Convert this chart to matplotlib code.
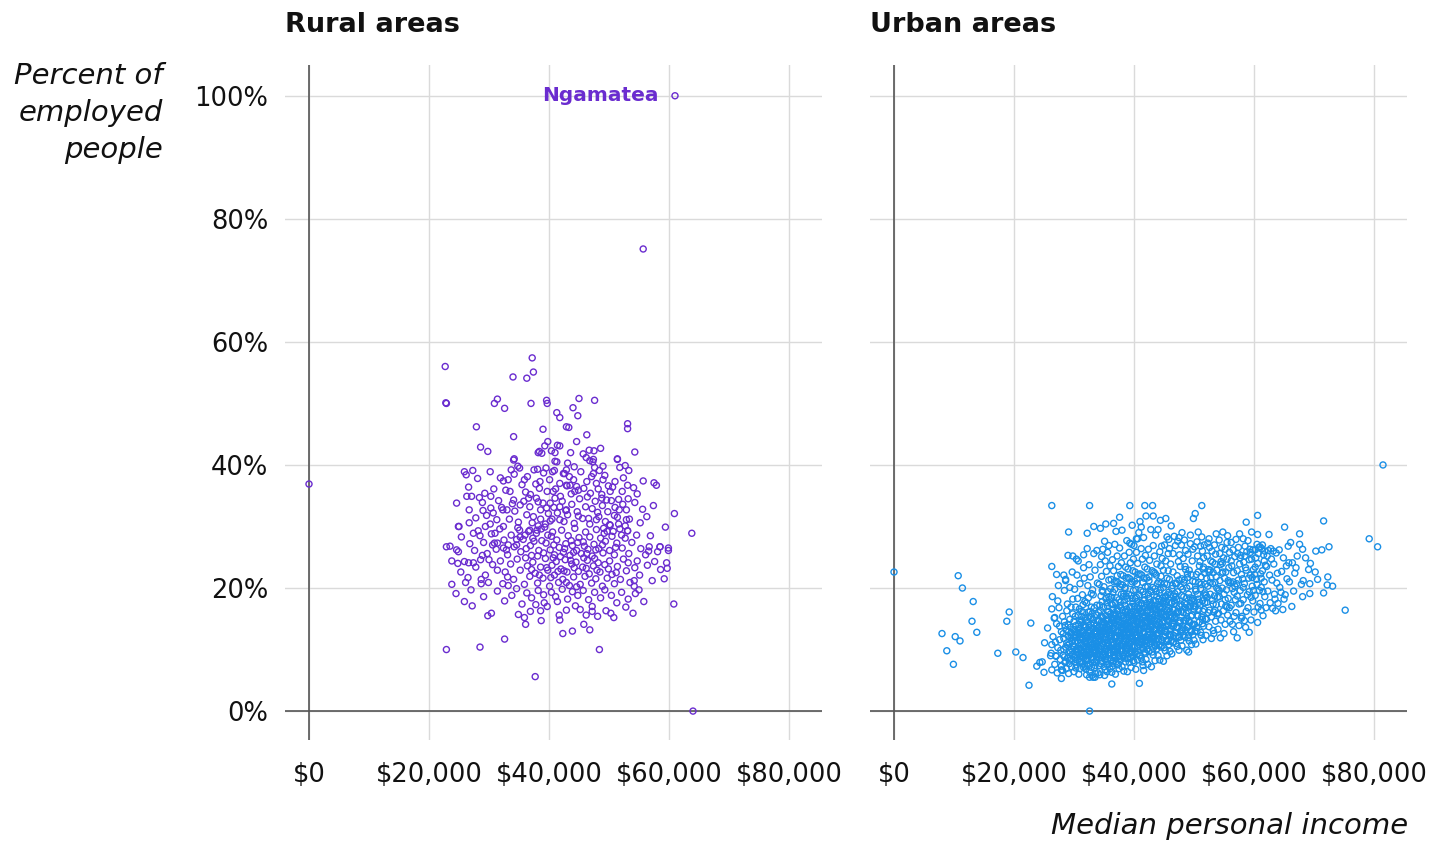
import matplotlib
matplotlib.use("Agg")
import matplotlib.pyplot as plt

# ---------------- data (income in $ thousands, percent of employed people) ----------------
rural_points = [
    (0.0,36.9),(61.0,100.0),(55.7,75.1),(64.0,0.0),(63.8,28.9),(60.8,17.4),(60.9,32.1),(59.4,29.9),(56.9,28.5),
    (56.6,26.0),(58.1,25.9),(58.5,26.7),(59.9,26.1),(57.6,24.3),(59.6,24.1),(59.7,23.2),(58.6,23.0),(59.2,21.5),
    (54.7,24.4),(54.2,21.2),(54.2,20.3),(55.0,19.7),(55.6,32.8),
    (22.7,56.0),(37.2,57.4),(34.0,54.3),(36.3,54.1),(37.4,55.1),(22.9,50.0),(22.8,50.1),(30.9,50.0),(31.4,50.7),
    (32.6,49.2),(37.0,50.0),(39.6,50.5),(39.7,50.0),(45.0,50.8),(47.6,50.5),(44.0,49.3),(41.3,48.5),(41.8,47.7),
    (44.8,48.0),(53.1,46.7),(53.1,45.9),(27.9,46.2),(34.1,44.6),(39.0,45.8),(43.3,46.1),(46.3,44.9),(28.6,42.9),
    (29.8,42.2),(34.2,41.0),(38.4,42.2),(38.8,41.9),(39.3,43.1),(39.8,43.8),(40.4,42.3),(41.4,43.2),(41.8,43.1),
    (43.6,42.0),(44.6,43.8),(54.3,42.1),(51.4,41.0),(41.0,40.6),
    (22.9,10.0),(28.5,10.4),(32.6,11.7),(37.7,5.6),(48.4,10.0),(42.3,12.6),(43.9,13.0),(46.8,13.2),(45.8,14.1),
    (36.1,14.1),(38.7,14.7),(41.7,15.6),(41.8,14.8),(29.8,15.5),(30.4,15.9),(34.9,15.7),(36.9,16.2),(37.8,17.3),
    (39.2,17.6),(39.7,17.0),(41.4,17.8),(44.4,17.1),(45.2,16.5),(47.2,17.0),(47.2,16.2),(49.5,16.3),(50.3,15.9),
    (50.8,15.2),(54.0,15.9),
    (23.8,20.6),(24.5,19.1),(25.9,17.8),(27.0,19.7),(26.1,20.9),(26.5,21.7),(28.7,20.7),(28.7,21.4),(29.9,20.9),
    (32.3,20.7),(31.4,22.9),(33.1,21.8),(22.9,26.7),(23.5,26.8),(24.6,26.2),(24.9,25.9),(23.8,24.4),(24.8,24.0),
    (25.9,24.3),(26.6,24.1),(27.4,24.1),(25.4,28.3),(24.9,30.0),(26.7,32.7),(24.6,33.8),(30.0,24.6),
    (25.9,38.9),(27.3,39.1),(26.6,36.4),(26.3,34.9),(27.1,34.9),(28.4,34.7),(29.0,32.6),(30.3,34.9),(30.3,33.0),
    (25.0,30.0),(26.7,30.6),(27.4,28.9),(28.5,28.5),(29.4,30.0),(30.2,30.4),(31.3,31.1),(31.0,28.9),(32.4,30.0),
    (32.3,32.7),(33.0,32.7),(34.1,34.3),(35.2,33.5),(33.5,35.7),(32.4,37.4),(33.2,37.6),(34.2,38.5),(33.7,39.2),
    (35.1,39.5),(34.8,39.8),(34.1,40.8),(31.4,27.3),(30.6,27.0),(32.4,26.5),(33.2,27.0),(34.6,27.0),(35.2,28.3),
    (36.0,28.6),(36.8,29.4),(38.0,29.4),(37.4,31.6),(38.2,34.0),(38.6,32.7),(39.0,33.8),(39.6,33.0),(40.2,33.8),
    (41.0,34.6),(40.7,35.7),(39.7,35.7),(38.4,36.2),(38.5,37.3),(37.5,39.2),(38.1,39.3),(39.5,39.5),(40.6,38.9),
    (41.3,40.5),(41.0,42.0),(38.2,42.0),(42.9,46.2),(42.4,38.6),(42.9,39.2),(41.8,37.0),(42.9,36.7),(41.8,33.2),
    (42.9,32.7),(41.8,31.1),
    (48.6,42.7),(47.5,42.3),(46.7,42.4),(45.7,41.8),(46.2,41.2),(46.8,40.7),(47.3,40.5),(47.4,40.9),(51.4,40.9),
    (52.7,39.9),(51.8,39.6),(53.3,39.1),(49.0,39.8),(48.4,39.1),(47.4,38.6),(43.1,40.3),(42.6,38.6),(44.1,37.6),
    (43.5,36.7),(43.0,36.6),(44.6,36.5),(44.9,35.9),(44.3,35.7),(46.3,37.3),(47.1,38.1),(47.9,37.0),(49.0,37.6),
    (49.9,36.6),(51.0,37.3),(50.2,35.7),(49.6,34.3),(48.8,34.6),(53.1,36.7),(52.2,35.7),(53.2,34.5),(51.6,34.4),
    (51.0,33.1),(51.7,32.7),(52.9,32.7),(54.7,35.3),(55.7,37.4),(57.5,37.1),(57.9,36.7),(51.4,31.5),(52.9,31.1),
    (52.7,30.1),(53.1,29.3),(52.1,28.6),(50.7,29.2),(50.2,30.2),(49.1,29.7),(47.9,31.1),(46.6,31.3),(56.7,26.7),
    (58.5,26.7),(59.9,26.5),
    (29.3,35.4),(30.8,36.1),(31.9,37.9),(32.8,35.9),(35.5,36.8),(36.4,38.1),(36.9,35.2),(37.8,36.9),(40.1,37.6),
    (41.1,36.1),(43.4,38.1),(45.3,38.9),(45.8,36.2),(46.9,35.4),(48.2,36.1),(49.3,38.3),(50.6,36.4),(52.4,37.9),
    (54.1,36.3),(28.1,37.8),(26.2,38.4),(36.1,35.6),(39.1,38.7),(44.2,39.7),(47.6,39.6),(30.2,38.9),(35.9,37.6),
    (40.9,39.1),(43.7,35.3),(48.8,35.2),
    (27.8,31.4),(28.9,33.9),(29.6,31.8),(30.7,32.2),(31.6,34.2),(32.1,33.1),(33.4,31.2),(34.3,32.5),(34.9,30.7),
    (35.8,34.1),(36.3,31.9),(36.8,33.2),(37.2,30.6),(37.9,34.6),(38.6,31.2),(39.4,30.4),(39.9,32.1),(40.5,31.2),
    (40.8,33.1),(41.4,32.2),(42.2,34.1),(42.5,30.8),(43.1,31.9),(43.8,33.6),(44.2,30.5),(44.7,32.4),(45.1,34.5),
    (45.6,31.3),(46.1,33.2),(46.8,30.4),(47.2,32.9),(47.7,34.1),(48.3,31.6),(48.9,33.4),(49.4,30.8),(49.8,32.4),
    (50.4,34.2),(50.9,31.8),(51.6,30.4),(52.3,33.6),(53.4,31.2),(54.3,33.9),(55.2,30.6),(56.3,31.6),(57.4,33.4),
    (46.4,34.8),(41.9,34.9),(38.2,30.1),(33.9,33.7),(44.9,31.7),(48.1,32.3),(42.8,32.6),(40.2,30.9),(36.6,34.6),
    (50.1,30.3),
    (26.8,27.2),(27.6,26.1),(28.2,29.3),(29.1,27.4),(29.7,25.6),(30.4,28.8),(31.2,26.3),(31.8,29.6),(32.5,27.8),
    (33.1,25.4),(33.7,28.6),(34.2,26.7),(34.8,29.8),(35.3,25.9),(35.7,27.9),(36.2,26.4),(36.6,29.2),(37.1,25.3),
    (37.5,27.6),(37.9,28.9),(38.3,26.1),(38.7,29.6),(39.1,25.7),(39.5,27.3),(39.8,28.6),(40.2,26.2),(40.6,29.1),
    (40.9,25.4),(41.3,27.8),(41.7,26.6),(42.1,29.4),(42.4,25.8),(42.8,27.2),(43.2,28.5),(43.5,25.3),(43.9,26.9),
    (44.3,29.7),(44.6,26.1),(45.0,28.2),(45.4,25.6),(45.7,27.5),(46.1,29.1),(46.5,26.3),(46.8,28.3),(47.2,25.2),
    (47.5,27.1),(47.9,29.5),(48.3,26.4),(48.6,28.1),(49.0,25.7),(49.4,27.6),(49.7,29.2),(50.1,26.1),(50.5,28.4),
    (50.9,25.4),(51.3,27.3),(51.8,29.6),(52.2,26.5),(52.7,28.1),(53.3,25.6),(53.8,27.4),(54.6,28.6),(55.3,26.4),
    (56.1,25.4),(28.9,25.3),(30.9,27.3),(32.9,26.2),(34.6,27.9),(36.9,26.9),(38.8,27.7),(40.4,28.4),(41.9,25.1),
    (43.7,27.7),(45.9,26.8),(47.8,26.2),(49.2,28.9),(51.1,26.6),(53.1,29.3),(38.1,25.2),(44.1,25.8),(46.3,25.6),
    (42.6,26.4),(40.8,27.0),(39.3,29.9),(35.1,29.4),(48.9,27.0),(37.3,28.1),(44.8,27.4),
    (25.3,22.6),(27.8,23.4),(28.6,24.6),(29.4,22.1),(30.6,23.8),(31.9,24.4),(32.7,22.6),(33.6,23.9),(34.1,21.4),
    (34.7,24.7),(35.2,22.9),(35.9,20.6),(36.4,23.6),(36.8,21.9),(37.3,24.2),(37.7,22.4),(38.1,20.8),(38.6,23.4),
    (39.0,21.6),(39.4,24.8),(39.8,22.9),(40.1,20.3),(40.5,23.7),(40.9,22.1),(41.2,24.3),(41.6,20.9),(42.0,23.1),
    (42.3,21.4),(42.7,24.6),(43.0,22.6),(43.4,20.4),(43.8,23.9),(44.1,21.8),(44.5,24.2),(44.9,22.7),(45.2,20.6),
    (45.6,23.4),(46.0,21.9),(46.4,24.5),(46.7,22.3),(47.1,20.8),(47.4,23.6),(47.8,21.5),(48.2,24.1),(48.5,22.6),
    (48.9,20.3),(49.3,23.8),(49.7,21.6),(50.1,24.4),(50.5,22.2),(50.9,20.7),(51.4,23.5),(51.9,21.4),(52.4,24.7),
    (52.9,22.8),(53.5,20.9),(54.3,23.3),(55.1,22.1),(56.4,23.7),(57.2,21.2),(33.2,20.4),(36.1,24.9),(38.4,22.1),
    (40.7,24.9),(42.5,22.8),(44.6,20.2),(46.2,23.2),(48.0,22.9),(49.9,23.1),(41.5,22.7),(43.6,24.5),(39.6,23.3),
    (45.8,24.9),(47.6,24.8),(37.1,23.0),(51.2,22.5),(53.2,24.1),(44.2,23.3),(42.9,20.9),(40.3,21.7),
    (27.2,17.1),(29.1,18.6),(31.4,19.5),(32.6,17.9),(33.8,18.8),(34.6,19.9),(35.5,17.4),(36.3,19.2),(37.1,18.4),
    (38.2,19.6),(39.1,18.9),(40.4,19.3),(41.1,18.6),(42.2,19.8),(43.1,18.2),(43.9,19.4),(44.8,18.8),(45.7,19.6),
    (46.6,18.1),(47.6,19.3),(48.6,18.4),(49.3,19.7),(50.4,18.8),(51.3,17.6),(52.1,19.3),(53.2,18.2),(54.4,19.1),
    (55.8,17.8),(38.6,16.3),(42.9,16.4),(48.1,15.4),(35.9,15.2),(46.2,15.6),(52.8,16.9),
]

urban_points = [
    # sparse left side and stragglers
    (0.0,22.6),(10.7,22.0),(11.4,20.0),(13.2,17.8),(13.0,14.6),(13.8,12.8),(8.0,12.6),(10.2,12.1),(11.0,11.4),
    (8.8,9.8),(9.9,7.6),(19.2,16.1),(18.8,14.6),(17.3,9.4),(20.3,9.6),(21.5,8.7),(22.8,14.3),(22.5,4.2),
    (32.6,0.0),(23.8,7.3),(24.3,7.9),(24.7,8.0),(25.0,6.3),(25.1,11.1),(26.3,6.7),(27.9,5.3),(27.9,6.7),
    (32.1,5.9),(33.5,5.5),(26.3,33.4),(32.6,33.4),(39.3,33.4),(29.1,29.1),(33.3,30.0),(34.4,29.7),(36.6,30.5),
    (26.3,23.5),(27.1,22.2),(28.6,21.4),(28.3,22.1),(29.8,25.2),(30.7,24.4),(31.6,25.4),(32.2,26.4),(26.3,16.6),
    (25.6,13.5),(26.8,15.2),(26.1,9.0),(27.0,9.0),(41.8,33.4),(43.2,31.7),(45.3,31.3),(41.2,29.9),(40.6,28.0),
    (47.5,28.2),(51.3,33.4),(49.9,31.3),(58.7,30.7),(39.3,27.3),(40.4,28.0),
    # 26-28
    (26.2,9.4),(26.5,12.1),(26.8,7.6),(27.1,14.2),(27.3,10.3),(27.5,16.8),(27.7,8.4),(27.9,12.9),(26.4,18.6),
    (27.2,6.2),(26.9,11.2),(27.6,13.8),(27.8,9.9),(26.7,15.1),(27.4,20.4),(27.9,7.3),(26.3,10.8),(27.0,8.9),
    (27.6,11.6),(27.3,17.9),
    # 28-30
    (28.1,6.6),(28.2,9.1),(28.3,11.8),(28.4,14.5),(28.5,7.9),(28.6,10.4),(28.7,13.2),(28.8,16.3),(28.9,8.6),
    (29.0,12.2),(29.1,6.1),(29.2,10.9),(29.3,14.9),(29.4,9.5),(29.5,12.7),(29.6,7.2),(29.7,11.3),(29.8,15.8),
    (29.9,8.9),(28.2,12.6),(28.4,19.6),(28.6,8.1),(28.8,11.1),(29.0,14.1),(29.2,7.7),(29.4,13.6),(29.6,10.1),
    (29.8,18.2),(28.3,10.0),(28.5,13.9),(28.7,6.9),(28.9,10.7),(29.1,12.9),(29.3,8.3),(29.5,16.9),(29.7,9.2),
    (29.9,13.3),(28.1,15.4),(28.6,21.2),(29.3,20.1),(29.0,25.3),(28.9,17.4),(29.7,22.6),(28.4,8.8),(29.5,11.9),
    # 30-32
    (30.0,6.4),(30.1,8.7),(30.2,11.4),(30.3,13.9),(30.4,7.5),(30.5,10.2),(30.6,12.8),(30.7,15.6),(30.8,9.3),
    (30.9,11.9),(31.0,6.9),(31.1,14.4),(31.2,8.1),(31.3,10.8),(31.4,13.1),(31.5,17.3),(31.6,9.7),(31.7,12.3),
    (31.8,7.3),(31.9,15.1),(30.1,10.5),(30.3,16.9),(30.5,8.3),(30.7,11.1),(30.9,14.7),(31.1,9.0),(31.3,12.0),
    (31.5,7.8),(31.7,10.4),(31.9,13.6),(30.2,12.4),(30.4,9.9),(30.6,18.3),(30.8,6.0),(31.0,11.6),(31.2,16.2),
    (31.4,8.9),(31.6,14.0),(31.8,11.2),(30.0,14.6),(30.3,7.0),(30.6,9.6),(30.9,12.5),(31.2,10.0),(31.5,11.7),
    (31.8,9.1),(30.1,19.8),(30.5,22.1),(31.0,20.7),(31.4,18.9),(31.7,21.6),(31.9,8.4),(30.4,12.9),(30.8,13.4),
    (31.3,15.4),(31.6,7.1),(30.2,8.0),(30.7,10.0),(31.1,12.7),(31.5,9.4),(31.9,11.5),(30.9,16.6),(31.8,17.8),
    (30.4,24.7),(31.6,23.3),
    # 32-34
    (32.0,6.8),(32.1,9.2),(32.2,11.9),(32.3,14.5),(32.4,7.6),(32.5,10.4),(32.6,13.1),(32.7,16.2),(32.8,8.7),
    (32.9,12.2),(33.0,5.8),(33.1,10.9),(33.2,14.9),(33.3,9.5),(33.4,12.8),(33.5,7.4),(33.6,11.4),(33.7,15.6),
    (33.8,8.9),(33.9,13.4),(32.0,11.1),(32.1,17.6),(32.2,8.2),(32.3,10.0),(32.4,12.6),(32.5,15.3),(32.6,9.1),
    (32.7,11.6),(32.8,14.1),(32.9,7.1),(33.0,10.3),(33.1,13.5),(33.2,8.4),(33.3,11.8),(33.4,16.8),(33.5,9.9),
    (33.6,13.0),(33.7,7.9),(33.8,11.0),(33.9,14.7),(32.0,13.7),(32.2,9.8),(32.4,18.4),(32.6,6.4),(32.8,10.7),
    (33.0,12.4),(33.2,18.9),(33.4,8.0),(33.6,9.6),(33.8,12.1),(32.1,12.3),(32.3,8.5),(32.5,11.2),(32.7,9.4),
    (32.9,10.1),(33.1,8.7),(33.3,14.2),(33.5,12.0),(33.7,10.6),(33.9,9.3),(32.3,20.4),(32.7,21.8),(33.1,19.7),
    (33.5,22.9),(33.9,20.8),(32.5,23.8),(33.3,25.6),(32.2,28.9),(33.8,26.1),(32.6,5.5),(33.6,6.1),(32.4,16.1),
    (33.0,15.8),(33.8,17.2),(32.8,12.9),(33.4,10.5),(32.1,14.8),(33.7,13.8),(32.9,19.1),(33.2,5.5),
    # 34-36
    (34.0,6.2),(34.1,8.6),(34.2,11.3),(34.3,13.8),(34.4,16.4),(34.5,7.7),(34.6,10.5),(34.7,12.9),(34.8,15.2),
    (34.9,9.0),(35.0,11.7),(35.1,14.3),(35.2,6.7),(35.3,10.0),(35.4,12.5),(35.5,17.6),(35.6,8.3),(35.7,11.1),
    (35.8,13.9),(35.9,9.5),(34.0,12.1),(34.1,14.9),(34.2,7.4),(34.3,9.8),(34.4,12.4),(34.5,18.7),(34.6,8.7),
    (34.7,11.0),(34.8,13.6),(34.9,16.9),(35.0,7.2),(35.1,9.7),(35.2,12.0),(35.3,15.5),(35.4,8.0),(35.5,10.6),
    (35.6,13.3),(35.7,19.4),(35.8,7.6),(35.9,12.7),(34.0,9.3),(34.2,13.2),(34.4,10.2),(34.6,14.5),(34.8,10.9),
    (35.0,13.0),(35.2,9.3),(35.4,14.6),(35.6,11.5),(35.8,16.2),(34.1,11.8),(34.3,17.2),(34.5,12.2),(34.7,9.6),
    (34.9,12.8),(35.1,11.2),(35.3,8.8),(35.5,13.7),(35.7,9.9),(35.9,14.2),(34.2,20.6),(34.6,21.9),(35.0,20.2),
    (35.4,22.7),(35.8,21.3),(34.4,23.8),(35.2,24.4),(35.6,25.8),(34.8,26.3),(35.9,18.1),(34.3,5.9),(35.5,6.4),
    (35.1,5.8),(34.7,19.6),(35.3,18.3),(34.1,16.0),(35.7,15.0),(34.9,14.0),(34.5,15.4),(35.6,17.0),(35.3,30.4),
    (34.6,25.1),(35.8,26.9),(35.1,27.6),
    # 36-38
    (36.0,6.9),(36.1,9.4),(36.2,12.1),(36.3,14.7),(36.4,17.3),(36.5,8.1),(36.6,10.8),(36.7,13.4),(36.8,16.0),
    (36.9,9.7),(37.0,12.3),(37.1,14.9),(37.2,7.5),(37.3,10.4),(37.4,13.0),(37.5,18.1),(37.6,8.9),(37.7,11.6),
    (37.8,14.3),(37.9,10.1),(36.0,13.1),(36.1,15.8),(36.2,8.3),(36.3,10.7),(36.4,13.5),(36.5,19.3),(36.6,9.2),
    (36.7,11.9),(36.8,14.4),(36.9,17.6),(37.0,8.0),(37.1,10.6),(37.2,12.9),(37.3,16.3),(37.4,9.0),(37.5,11.4),
    (37.6,14.0),(37.7,20.2),(37.8,8.4),(37.9,13.1),(36.0,10.3),(36.2,14.4),(36.4,11.2),(36.6,15.6),(36.8,12.0),
    (37.0,15.5),(37.2,10.0),(37.4,15.4),(37.6,12.3),(37.8,16.9),(36.1,12.8),(36.3,18.5),(36.5,13.2),(36.7,10.0),
    (36.9,13.8),(37.1,12.0),(37.3,9.6),(37.5,14.8),(37.7,10.7),(37.9,15.6),(36.2,21.4),(36.6,22.8),(37.0,21.1),
    (37.4,23.5),(37.8,22.2),(36.4,24.6),(37.2,25.2),(37.6,26.5),(36.8,27.1),(37.9,19.0),(36.3,6.3),(37.5,6.9),
    (36.9,6.0),(37.1,18.4),(36.5,16.6),(37.7,17.7),(36.1,19.9),(37.3,20.9),(36.7,21.0),(37.9,24.1),(36.3,4.4),
    (37.0,29.2),(37.6,31.5),(36.0,23.6),(37.4,7.6),(36.8,8.6),(37.2,22.0),(36.4,7.3),(37.8,11.9),
    # 38-40
    (38.0,7.2),(38.1,9.8),(38.2,12.6),(38.3,15.2),(38.4,17.9),(38.5,8.6),(38.6,11.3),(38.7,13.9),(38.8,16.6),
    (38.9,10.2),(39.0,12.9),(39.1,15.6),(39.2,7.9),(39.3,11.0),(39.4,13.6),(39.5,18.8),(39.6,9.5),(39.7,12.2),
    (39.8,14.9),(39.9,10.7),(38.0,13.7),(38.1,16.4),(38.2,8.9),(38.3,11.3),(38.4,14.1),(38.5,20.1),(38.6,9.8),
    (38.7,12.5),(38.8,15.0),(38.9,18.3),(39.0,8.5),(39.1,11.2),(39.2,13.5),(39.3,16.9),(39.4,9.6),(39.5,12.0),
    (39.6,14.6),(39.7,21.0),(39.8,9.0),(39.9,13.7),(38.0,10.9),(38.2,15.0),(38.4,11.8),(38.6,16.2),(38.8,12.7),
    (39.0,16.1),(39.2,10.6),(39.4,16.0),(39.6,13.0),(39.8,17.5),(38.1,13.4),(38.3,19.1),(38.5,13.8),(38.7,10.6),
    (38.9,14.4),(39.1,12.6),(39.3,10.2),(39.5,15.4),(39.7,11.3),(39.9,16.2),(38.2,22.0),(38.6,23.4),(39.0,21.7),
    (39.4,24.1),(39.8,22.8),(38.4,25.2),(39.2,25.8),(39.6,27.1),(38.8,27.7),(39.9,19.6),(38.3,6.5),(39.5,7.1),
    (38.9,6.4),(39.1,19.0),(38.5,17.2),(39.7,18.3),(38.1,20.5),(39.3,21.5),(38.7,21.6),(39.9,24.7),(38.0,29.4),
    (39.7,30.2),(38.6,8.0),(39.4,8.7),(38.2,18.6),(39.0,23.1),(38.8,9.3),(39.6,11.8),
    # 40-42
    (40.0,7.9),(40.1,10.4),(40.2,13.2),(40.3,15.8),(40.4,18.5),(40.5,9.2),(40.6,11.9),(40.7,14.5),(40.8,17.2),
    (40.9,10.8),(41.0,13.5),(41.1,16.2),(41.2,8.6),(41.3,11.6),(41.4,14.2),(41.5,19.4),(41.6,10.1),(41.7,12.8),
    (41.8,15.5),(41.9,11.3),(40.0,14.3),(40.1,17.0),(40.2,9.5),(40.3,11.9),(40.4,14.7),(40.5,20.7),(40.6,10.4),
    (40.7,13.1),(40.8,15.6),(40.9,18.9),(41.0,9.1),(41.1,11.8),(41.2,14.1),(41.3,17.5),(41.4,10.2),(41.5,12.6),
    (41.6,15.2),(41.7,21.6),(41.8,9.6),(41.9,14.3),(40.0,11.5),(40.2,15.6),(40.4,12.4),(40.6,16.8),(40.8,13.3),
    (41.0,16.7),(41.2,11.2),(41.4,16.6),(41.6,13.6),(41.8,18.1),(40.1,14.0),(40.3,19.7),(40.5,14.4),(40.7,11.2),
    (40.9,15.0),(41.1,13.2),(41.3,10.8),(41.5,16.0),(41.7,11.9),(41.9,16.8),(40.2,22.6),(40.6,24.0),(41.0,22.3),
    (41.4,24.7),(41.8,23.4),(40.4,25.8),(41.2,26.4),(41.6,28.2),(40.8,29.0),(41.9,20.2),(40.3,6.8),(41.5,7.4),
    (40.9,4.5),(41.1,19.6),(40.5,17.8),(41.7,18.9),(40.1,21.1),(41.3,22.1),(40.7,22.2),(41.9,25.3),(40.6,8.3),
    (41.4,8.0),(40.0,26.9),(41.0,30.8),(41.6,6.6),
    # 42-44
    (42.0,8.4),(42.1,10.9),(42.2,13.7),(42.3,16.3),(42.4,19.0),(42.5,9.7),(42.6,12.4),(42.7,15.0),(42.8,17.7),
    (42.9,11.3),(43.0,14.0),(43.1,16.7),(43.2,9.1),(43.3,12.1),(43.4,14.7),(43.5,19.9),(43.6,10.6),(43.7,13.3),
    (43.8,16.0),(43.9,11.8),(42.0,14.8),(42.1,17.5),(42.2,10.0),(42.3,12.4),(42.4,15.2),(42.5,21.2),(42.6,10.9),
    (42.7,13.6),(42.8,16.1),(42.9,19.4),(43.0,9.6),(43.1,12.3),(43.2,14.6),(43.3,18.0),(43.4,10.7),(43.5,13.1),
    (43.6,15.7),(43.7,22.1),(43.8,10.1),(43.9,14.8),(42.0,12.0),(42.2,16.1),(42.4,12.9),(42.6,17.3),(42.8,13.8),
    (43.0,17.2),(43.2,11.7),(43.4,17.1),(43.6,14.1),(43.8,18.6),(42.1,14.5),(42.3,20.2),(42.5,14.9),(42.7,11.7),
    (42.9,15.5),(43.1,13.7),(43.3,11.3),(43.5,16.5),(43.7,12.4),(43.9,17.3),(42.2,23.1),(42.6,24.5),(43.0,22.8),
    (43.4,25.2),(43.8,23.9),(42.4,26.3),(43.2,26.9),(43.6,28.6),(42.8,29.5),(43.9,20.7),(42.3,7.6),(43.5,8.2),
    (42.9,7.2),(43.1,20.1),(42.5,18.3),(43.7,19.4),(42.1,21.6),(43.3,22.6),(42.0,31.7),(43.1,33.4),
    # 44-46
    (44.0,9.0),(44.1,11.6),(44.2,14.4),(44.3,17.0),(44.4,19.7),(44.5,10.4),(44.6,13.1),(44.7,15.7),(44.8,18.4),
    (44.9,12.0),(45.0,14.7),(45.1,17.4),(45.2,9.8),(45.3,12.8),(45.4,15.4),(45.5,20.6),(45.6,11.3),(45.7,14.0),
    (45.8,16.7),(45.9,12.5),(44.0,15.5),(44.1,18.2),(44.2,10.7),(44.3,13.1),(44.4,15.9),(44.5,21.9),(44.6,11.6),
    (44.7,14.3),(44.8,16.8),(44.9,20.1),(45.0,10.3),(45.1,13.0),(45.2,15.3),(45.3,18.7),(45.4,11.4),(45.5,13.8),
    (45.6,16.4),(45.7,22.8),(45.8,10.8),(45.9,15.5),(44.0,12.7),(44.2,16.8),(44.4,13.6),(44.6,18.0),(44.8,14.5),
    (45.0,17.9),(45.2,12.4),(45.4,17.8),(45.6,14.8),(45.8,19.3),(44.1,21.0),(44.5,23.6),(44.9,22.9),(45.3,24.4),
    (45.7,25.6),(44.3,25.9),(45.1,27.0),(45.5,28.3),(44.7,24.8),(45.9,21.4),(44.3,8.3),(45.5,9.0),(44.9,8.1),
    (45.1,20.7),(44.6,26.8),(45.8,27.9),(44.0,29.5),(44.4,31.0),(45.9,26.4),
    # 46-48
    (46.0,9.7),(46.1,12.3),(46.2,15.1),(46.3,17.7),(46.4,20.4),(46.5,11.1),(46.6,13.8),(46.7,16.4),(46.8,19.1),
    (46.9,12.7),(47.0,15.4),(47.1,18.1),(47.2,10.5),(47.3,13.5),(47.4,16.1),(47.5,21.3),(47.6,12.0),(47.7,14.7),
    (47.8,17.4),(47.9,13.2),(46.0,16.2),(46.1,18.9),(46.2,11.4),(46.3,13.8),(46.4,16.6),(46.5,22.6),(46.6,12.3),
    (46.7,15.0),(46.8,17.5),(46.9,20.8),(47.0,11.0),(47.1,13.7),(47.2,16.0),(47.3,19.4),(47.4,12.1),(47.5,14.5),
    (47.6,17.1),(47.7,23.5),(47.8,11.5),(47.9,16.2),(46.0,13.4),(46.2,17.5),(46.4,14.3),(46.6,18.7),(46.8,15.2),
    (47.0,18.6),(47.2,22.0),(47.4,24.3),(47.6,25.4),(47.8,20.2),(46.1,23.9),(46.5,25.6),(46.9,26.9),(47.3,27.6),
    (46.3,9.3),(47.5,9.9),(46.7,28.4),(47.9,27.0),(46.2,30.1),
    # 48-50
    (48.0,10.6),(48.1,13.2),(48.2,16.0),(48.3,18.6),(48.4,21.3),(48.5,12.0),(48.6,14.7),(48.7,17.3),(48.8,20.0),
    (48.9,13.6),(49.0,16.3),(49.1,19.0),(49.2,11.4),(49.3,14.4),(49.4,17.0),(49.5,22.2),(49.6,12.9),(49.7,15.6),
    (49.8,18.3),(49.9,14.1),(48.0,17.1),(48.1,19.8),(48.2,12.3),(48.3,14.7),(48.4,17.5),(48.5,23.5),(48.6,13.2),
    (48.7,15.9),(48.8,18.4),(48.9,21.7),(49.0,11.9),(49.1,14.6),(49.2,16.9),(49.3,20.3),(49.4,13.0),(49.5,15.4),
    (49.6,18.0),(49.7,24.4),(49.8,12.4),(49.9,17.1),(48.2,24.8),(48.6,26.1),(49.0,25.5),(49.4,27.2),(49.8,26.3),
    (48.4,27.8),(49.2,22.9),(48.8,9.9),(49.6,10.8),(48.0,29.0),(49.4,28.6),(48.6,23.0),(49.1,9.6),(48.3,20.9),
    # 50-52
    (50.0,11.5),(50.1,14.1),(50.2,16.9),(50.3,19.5),(50.4,22.2),(50.5,12.9),(50.6,15.6),(50.7,18.2),(50.8,20.9),
    (50.9,14.5),(51.0,17.2),(51.1,19.9),(51.2,12.3),(51.3,15.3),(51.4,17.9),(51.5,23.1),(51.6,13.8),(51.7,16.5),
    (51.8,19.2),(51.9,15.0),(50.0,18.0),(50.2,21.0),(50.4,13.6),(50.6,25.2),(50.8,16.5),(51.0,24.3),(51.2,21.8),
    (51.4,26.0),(51.6,24.9),(51.8,22.4),(50.1,26.7),(50.5,27.5),(50.9,23.6),(51.3,28.3),(51.7,27.0),(50.3,10.9),
    (51.5,11.6),(51.1,12.8),(50.7,29.1),(51.9,20.6),(50.2,32.1),(51.1,26.8),(50.6,19.0),(51.4,14.2),(51.8,17.6),
    # 52-54
    (52.0,12.3),(52.1,14.9),(52.2,17.7),(52.3,20.3),(52.4,23.0),(52.5,13.7),(52.6,16.4),(52.7,19.0),(52.8,21.7),
    (52.9,15.3),(53.0,18.0),(53.1,20.7),(53.2,13.1),(53.3,16.1),(53.4,18.7),(53.5,23.9),(53.6,14.6),(53.7,17.3),
    (53.8,20.0),(53.9,15.8),(52.0,18.8),(52.2,25.2),(52.4,16.0),(52.6,26.6),(52.8,24.4),(53.0,26.0),(53.2,22.5),
    (53.4,27.0),(53.6,25.5),(53.8,22.9),(52.1,21.6),(52.5,28.0),(52.9,11.8),(53.3,12.6),(53.7,28.8),(52.3,27.3),
    (53.1,24.2),(52.7,22.9),(53.5,20.9),(53.9,18.5),
    # 54-56
    (54.0,13.3),(54.1,15.9),(54.2,18.6),(54.3,21.2),(54.4,23.8),(54.5,14.8),(54.6,17.4),(54.7,20.0),(54.8,22.6),
    (54.9,16.3),(55.0,19.0),(55.1,21.6),(55.2,14.1),(55.3,17.1),(55.4,19.7),(55.5,24.7),(55.6,15.6),(55.7,18.3),
    (55.8,20.9),(55.9,16.8),(54.0,19.8),(54.3,25.6),(54.6,26.6),(54.9,24.9),(55.2,26.3),(55.5,27.4),(55.8,23.3),
    (54.2,27.8),(55.0,12.6),(55.6,28.5),(54.4,11.9),(55.3,22.6),(54.7,24.0),(55.9,25.8),(54.8,29.1),
    # 56-58
    (56.0,14.6),(56.2,17.2),(56.4,19.9),(56.6,22.5),(56.8,25.1),(57.0,16.0),(57.2,18.7),(57.4,21.3),(57.6,23.9),
    (57.8,17.5),(56.1,20.9),(56.3,23.6),(56.5,26.2),(56.7,15.4),(56.9,18.1),(57.1,20.7),(57.3,25.6),(57.5,13.9),
    (57.7,19.6),(57.9,22.2),(56.2,27.4),(56.6,12.9),(57.0,27.9),(57.4,26.6),(57.8,25.3),(56.4,14.1),(57.2,11.9),
    (57.6,28.8),(56.8,20.3),(57.9,15.1),
    # 58-60
    (58.0,15.4),(58.2,18.1),(58.4,20.7),(58.6,23.3),(58.8,25.9),(59.0,16.8),(59.2,19.4),(59.4,22.1),(59.6,24.7),
    (59.8,17.9),(58.1,21.5),(58.3,24.2),(58.5,26.8),(58.7,16.2),(58.9,18.9),(59.1,21.6),(59.3,26.3),(59.5,14.8),
    (59.7,20.3),(59.9,23.0),(58.2,28.0),(58.6,13.6),(59.0,27.7),(59.4,25.8),(59.8,26.2),(58.4,14.7),(59.2,12.8),
    (59.6,29.1),(59.9,19.6),
    # 60-62
    (60.0,16.1),(60.2,18.8),(60.4,21.4),(60.6,24.0),(60.8,26.6),(61.0,17.5),(61.2,20.1),(61.4,22.8),(61.6,25.4),
    (61.8,18.6),(60.1,22.2),(60.3,24.9),(60.5,27.1),(60.7,16.9),(60.9,19.6),(61.1,22.3),(61.3,26.4),(61.5,15.5),
    (61.7,21.0),(61.9,23.7),(60.2,26.2),(60.6,14.4),(61.0,26.7),(61.4,27.0),(61.8,26.0),(60.6,31.8),(60.6,28.7),
    (61.2,16.4),
    # 62-66
    (62.0,16.8),(62.3,19.5),(62.6,22.1),(62.9,24.7),(63.2,26.0),(63.5,18.2),(63.8,20.8),(62.1,23.5),(62.4,26.1),
    (62.7,17.6),(63.0,21.3),(63.3,23.9),(63.6,16.3),(63.9,22.4),(62.2,25.2),(62.8,26.4),(63.1,16.7),(63.4,19.0),
    (63.7,25.7),(62.5,28.7),
    (64.0,17.5),(64.3,20.1),(64.6,22.7),(64.9,24.9),(65.2,18.9),(65.5,21.5),(65.8,24.1),(64.2,26.2),(64.8,16.5),
    (65.1,29.9),(65.4,23.6),(65.7,26.8),(64.5,19.3),(65.0,18.2),(65.9,21.0),
    # 66+
    (66.3,17.0),(66.4,24.1),(67.6,28.8),(67.6,27.1),(68.1,26.3),(68.2,21.2),(67.9,20.6),(69.3,20.7),(69.3,19.1),
    (68.1,18.6),(69.4,24.0),(69.1,23.0),(70.2,22.6),(72.3,21.8),(72.2,20.5),(73.1,20.3),(71.6,19.2),(70.3,26.0),
    (71.3,26.2),(72.5,26.7),(71.6,30.9),(75.2,16.4),(79.2,28.0),(80.6,26.7),(81.5,40.0),(66.8,22.4),(67.2,25.2),
    (66.6,19.5),(67.0,23.3),(66.1,27.4),(68.6,24.9),(70.6,21.4),
    # extra points of the dense core
    (29.2,9.8),(29.5,12.4),(29.8,10.6),(30.1,13.2),(30.3,9.1),(30.6,11.4),(30.8,14.1),(31.1,10.2),(31.3,12.9),
    (31.6,8.6),(31.8,13.8),(32.1,10.9),(32.3,12.2),(32.6,9.7),(32.8,15.2),(33.1,11.7),(33.3,13.4),(33.6,10.3),
    (33.8,8.2),(29.6,8.4),(30.9,8.0),(32.2,7.4),(33.4,7.0),(30.2,15.4),(31.5,16.1),(32.9,16.9),(29.9,11.9),
    (31.2,14.8),(32.5,13.9),(33.7,12.6),
    (34.1,10.4),(34.3,12.8),(34.6,15.3),(34.8,9.2),(35.1,13.4),(35.3,11.6),(35.6,16.2),(35.8,10.8),(36.1,14.1),
    (36.3,12.4),(36.6,9.6),(36.8,15.7),(37.1,11.3),(37.3,13.9),(37.6,17.1),(37.8,12.7),(34.2,14.6),(34.7,17.8),
    (35.2,8.4),(35.7,14.8),(36.2,17.4),(36.7,8.9),(37.2,16.6),(37.7,9.8),(34.4,11.5),(34.9,13.1),(35.4,10.1),
    (35.9,12.2),(36.4,15.1),(36.9,11.8),(37.4,14.5),(37.9,10.6),(34.5,8.1),(35.5,7.6),(36.5,7.8),(37.5,8.5),
    (34.8,19.4),(35.8,18.6),(36.8,19.8),(37.8,20.6),
    (38.1,11.2),(38.3,13.6),(38.6,16.1),(38.8,10.1),(39.1,14.3),(39.3,12.5),(39.6,17.0),(39.8,11.7),(40.1,15.0),
    (40.3,13.3),(40.6,10.5),(40.8,16.6),(41.1,12.2),(41.3,14.8),(41.6,18.0),(41.8,13.6),(38.2,15.5),(38.7,18.7),
    (39.2,9.3),(39.7,15.7),(40.2,18.3),(40.7,9.8),(41.2,17.5),(41.7,10.7),(38.4,12.4),(38.9,14.0),(39.4,11.0),
    (39.9,13.1),(40.4,16.0),(40.9,12.7),(41.4,15.4),(41.9,11.5),(38.5,19.9),(39.5,20.7),(40.5,21.5),(41.5,20.9),
    (38.9,8.6),(39.9,8.2),(40.9,9.0),(41.9,9.4),
    (42.1,12.1),(42.3,14.5),(42.6,17.0),(42.8,11.0),(43.1,15.2),(43.3,13.4),(43.6,17.9),(43.8,12.6),(44.1,15.9),
    (44.3,14.2),(44.6,11.4),(44.8,17.5),(45.1,13.1),(45.3,15.7),(45.6,18.9),(45.8,14.5),(42.2,16.4),(42.7,19.6),
    (43.2,10.2),(43.7,16.6),(44.2,19.2),(44.7,10.7),(45.2,18.4),(45.7,11.6),(42.4,13.3),(42.9,14.9),(43.4,11.9),
    (43.9,14.0),(44.4,16.9),(44.9,13.6),(45.4,16.3),(45.9,12.4),(42.5,21.8),(43.5,22.4),(44.5,20.8),(45.5,21.6),
    (46.1,13.0),(46.4,15.4),(46.7,17.9),(47.0,12.1),(47.3,16.1),(47.6,14.3),(47.9,18.8),(48.2,13.5),(48.5,16.8),
    (48.8,15.1),(49.1,12.3),(49.4,18.4),(49.7,14.0),(50.0,16.6),(50.3,19.8),(50.6,15.4),(50.9,17.7),(51.2,20.6),
    (51.5,16.2),(51.8,18.9),(46.3,19.9),(47.1,20.7),(48.0,21.5),(48.9,22.3),(49.8,21.1),(50.7,22.6),(51.6,23.4),
    (46.6,11.2),(47.8,12.9),(49.0,13.8),(50.2,13.0),(51.4,14.9),
    (52.2,18.5),(52.7,20.9),(53.2,17.4),(53.7,21.8),(54.2,19.6),(54.7,22.4),(55.2,18.1),(55.7,21.2),(56.2,24.4),
    (56.7,19.3),(57.2,22.8),(57.7,24.9),(58.2,20.1),(58.7,22.9),(59.2,24.6),(59.7,21.7),(60.2,23.4),(60.7,25.6),
    (61.2,21.6),(61.7,24.4),(52.5,22.6),(53.5,16.4),(54.5,24.3),(55.5,16.9),(56.5,21.0),(57.5,17.4),(58.5,25.2),
    (59.5,18.5),(60.5,20.6),(61.5,19.4),
]

panel_titles = ["Rural areas", "Urban areas"]
x_ticks = [0, 20, 40, 60, 80]
x_tick_labels = ["\\$0", "\\$20,000", "\\$40,000", "\\$60,000", "\\$80,000"]
y_ticks = [0, 20, 40, 60, 80, 100]
y_tick_labels = ["0%", "20%", "40%", "60%", "80%", "100%"]
highlight_name = "Ngamatea"
highlight_point = (61.0, 100.0)

# ---------------- style ----------------
plt.rcParams["font.family"] = ["DejaVu Sans"]
rural_color = "#6a2ccf"
urban_color = "#1a8fe6"
W, H = 1433, 841

fig = plt.figure(figsize=(W / 100, H / 100), dpi=100)
fig.patch.set_facecolor("white")

def make_ax(left_px):
    return fig.add_axes([left_px / W, 1 - 740 / H, 537 / W, 675 / H])

ax_r = make_ax(285)
ax_u = make_ax(870)

for ax, pts, col, show_y in [(ax_r, rural_points, rural_color, True),
                              (ax_u, urban_points, urban_color, False)]:
    xs = [p[0] for p in pts]
    ys = [p[1] for p in pts]
    ax.set_xlim(-4.0, 85.5)
    ax.set_ylim(-4.7, 105.0)
    ax.set_xticks(x_ticks)
    ax.set_xticklabels(x_tick_labels, fontsize=18.5, color="#111111")
    ax.set_yticks(y_ticks)
    if show_y:
        ax.set_yticklabels(y_tick_labels, fontsize=18.5, color="#111111")
    else:
        ax.set_yticklabels([])
    ax.tick_params(axis="x", length=0, pad=16)
    ax.tick_params(axis="y", length=0, pad=12)
    for s in ax.spines.values():
        s.set_visible(False)
    ax.grid(True, color="#dadada", linewidth=1.0, zorder=0)
    ax.set_axisbelow(True)
    ax.axhline(0, color="#555555", linewidth=1.2, zorder=1)
    ax.axvline(0, color="#555555", linewidth=1.2, zorder=1)
    ax.scatter(xs, ys, s=19, facecolors="none", edgecolors=col, linewidths=1.0, zorder=3)

ax_r.annotate(highlight_name, xy=highlight_point, xytext=(-12, 0), textcoords="offset points",
              ha="right", va="center", fontsize=14.5, fontweight="bold", color=rural_color)

fig.text(285 / W, 1 - 25 / H, panel_titles[0], ha="left", va="center", fontsize=19.5, fontweight="bold", color="#111111")
fig.text(870 / W, 1 - 25 / H, panel_titles[1], ha="left", va="center", fontsize=19.5, fontweight="bold", color="#111111")
fig.text(163 / W, 1 - 113 / H, "Percent of\nemployed\npeople", ha="right", va="center",
         fontsize=21, style="italic", linespacing=1.4, color="#111111")
fig.text(1408 / W, 1 - 826 / H, "Median personal income", ha="right", va="center",
         fontsize=21, style="italic", color="#111111")

fig.savefig("out.png", dpi=100, facecolor="white")
